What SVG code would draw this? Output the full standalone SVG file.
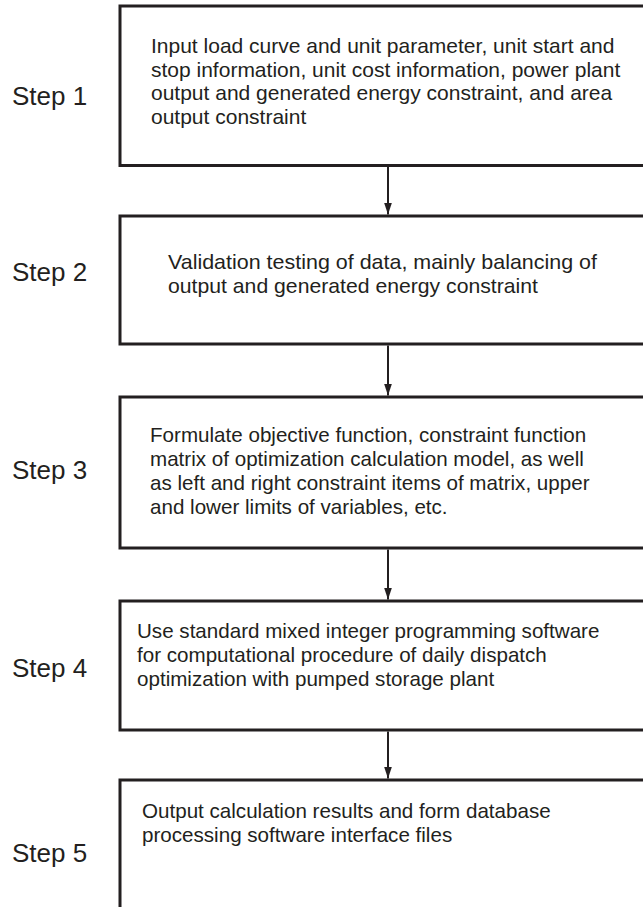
<svg xmlns="http://www.w3.org/2000/svg" width="643" height="907" viewBox="0 0 643 907">
  <defs>
    <marker id="arrowhead" viewBox="0 0 12 8" refX="12" refY="4" markerWidth="12" markerHeight="8" markerUnits="userSpaceOnUse" orient="auto">
      <path d="M0,0 L12,4 L0,8 Z" fill="#231f20"/>
    </marker>
    <style>
      .box { fill: #ffffff; stroke: #231f20; stroke-width: 3; }
      .txt { font-family: "Liberation Sans", Arial, sans-serif; font-size: 20.6px; fill: #231f20; }
      .big { font-size: 21px; }
      .step { font-family: "Liberation Sans", Arial, sans-serif; font-size: 26px; fill: #231f20; }
      .link { stroke: #231f20; stroke-width: 2; fill: none; marker-end: url(#arrowhead); }
    </style>
  </defs>
  <rect width="643" height="907" fill="#ffffff"/>

  <!-- step labels -->
  <g id="labels">
    <text class="step" x="12" y="105">Step 1</text>
    <text class="step" x="12" y="281">Step 2</text>
    <text class="step" x="12" y="479">Step 3</text>
    <text class="step" x="12" y="677">Step 4</text>
    <text class="step" x="12" y="862">Step 5</text>
  </g>

  <g id="step1">
    <rect class="box" x="120" y="6" width="540" height="159.5"/>
    <text class="txt big" x="151" y="53">Input load curve and unit parameter, unit start and</text>
    <text class="txt big" x="151" y="77">stop information, unit cost information, power plant</text>
    <text class="txt big" x="151" y="100">output and generated energy constraint, and area</text>
    <text class="txt big" x="151" y="124">output constraint</text>
  </g>

  <g id="step2">
    <rect class="box" x="120" y="216" width="540" height="128"/>
    <text class="txt big" x="168" y="269" textLength="429" lengthAdjust="spacingAndGlyphs">Validation testing of data, mainly balancing of</text>
    <text class="txt big" x="168" y="293" textLength="370" lengthAdjust="spacingAndGlyphs">output and generated energy constraint</text>
  </g>

  <g id="step3">
    <rect class="box" x="120" y="397" width="540" height="151"/>
    <text class="txt" x="150" y="442">Formulate objective function, constraint function</text>
    <text class="txt" x="150" y="466">matrix of optimization calculation model, as well</text>
    <text class="txt" x="150" y="490">as left and right constraint items of matrix, upper</text>
    <text class="txt" x="150" y="514">and lower limits of variables, etc.</text>
  </g>

  <g id="step4">
    <rect class="box" x="120" y="601" width="540" height="129"/>
    <text class="txt" x="137" y="638">Use standard mixed integer programming software</text>
    <text class="txt" x="137" y="662">for computational procedure of daily dispatch</text>
    <text class="txt" x="137" y="686">optimization with pumped storage plant</text>
  </g>

  <g id="step5">
    <rect class="box" x="120" y="780" width="540" height="140"/>
    <text class="txt" x="142" y="818">Output calculation results and form database</text>
    <text class="txt" x="142" y="842">processing software interface files</text>
  </g>

  <g id="connectors">
    <line class="link" x1="388" y1="167" x2="388" y2="214.5"/>
    <line class="link" x1="388" y1="345.5" x2="388" y2="395.5"/>
    <line class="link" x1="388" y1="549.5" x2="388" y2="599.5"/>
    <line class="link" x1="388" y1="731.5" x2="388" y2="778.5"/>
  </g>
</svg>
